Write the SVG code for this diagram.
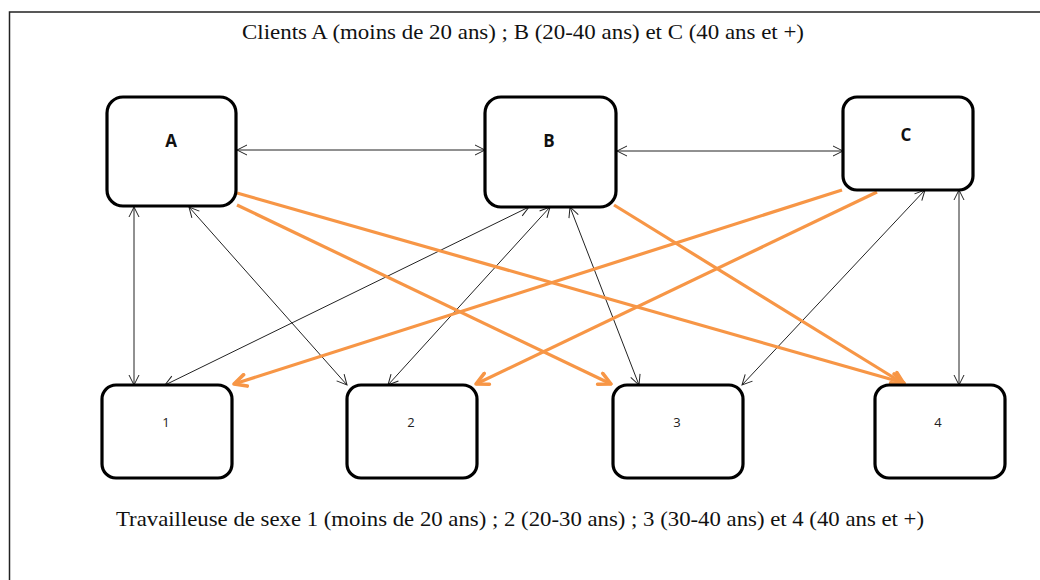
<svg xmlns="http://www.w3.org/2000/svg" width="1040" height="580" viewBox="0 0 1040 580">
  <style>
    .frame { fill: #ffffff; stroke: #222222; stroke-width: 1.5; }
    .box { fill: #ffffff; stroke: #000000; stroke-width: 3.2; }
    .caption { font-family: "Liberation Serif", serif; fill: #111111; }
    .big { font-family: "Open Sans", "Liberation Sans", sans-serif; font-size: 17px; font-weight: bold; fill: #111111; }
    .small { font-family: "Open Sans", "Liberation Sans", sans-serif; font-size: 13px; fill: #222222; }
    .thin { stroke: #222222; stroke-width: 1; fill: none; marker-start: url(#headB); marker-end: url(#headB); }
    .orange { stroke: #F79646; stroke-width: 3.2; fill: none; marker-end: url(#headO); }
  </style>
  <defs>
    <marker id="headB" viewBox="0 0 12 12" refX="11" refY="6" markerWidth="12" markerHeight="12" markerUnits="userSpaceOnUse" orient="auto-start-reverse">
      <path d="M1,1 L11,6 L1,11" fill="none" stroke="#222222" stroke-width="1"/>
    </marker>
    <marker id="headO" viewBox="0 0 16 16" refX="14" refY="8" markerWidth="16" markerHeight="16" markerUnits="userSpaceOnUse" orient="auto">
      <path d="M2,2 L14,8 L2,14" fill="none" stroke="#F79646" stroke-width="3.6" stroke-linejoin="round" stroke-linecap="round"/>
    </marker>
  </defs>

  <rect width="1040" height="580" fill="#ffffff"/>
  <rect class="frame" x="9.5" y="12" width="1040" height="580"/>

  <text class="caption" x="242" y="39" font-size="21" textLength="562" lengthAdjust="spacingAndGlyphs">Clients A (moins de 20 ans) ; B (20-40 ans) et C (40 ans et +)</text>
  <text class="caption" x="116" y="526" font-size="21" textLength="808" lengthAdjust="spacingAndGlyphs">Travailleuse de sexe 1 (moins de 20 ans) ; 2 (20-30 ans) ; 3 (30-40 ans) et 4 (40 ans et +)</text>

  <g id="connectors">
    <line class="thin" x1="237" y1="150" x2="485" y2="150"/>
    <line class="thin" x1="617" y1="151" x2="843" y2="151"/>
    <line class="thin" x1="134" y1="207" x2="134" y2="385"/>
    <line class="thin" x1="189" y1="207" x2="347" y2="385"/>
    <line class="thin" x1="529" y1="207" x2="165" y2="385"/>
    <line class="thin" x1="550" y1="207" x2="388" y2="385"/>
    <line class="thin" x1="570" y1="207" x2="639" y2="385"/>
    <line class="thin" x1="925" y1="190" x2="742" y2="385"/>
    <line class="thin" x1="959" y1="190" x2="959" y2="385"/>
    <line class="orange" x1="237" y1="193" x2="904" y2="383"/>
    <line class="orange" x1="237" y1="205" x2="611" y2="384"/>
    <line class="orange" x1="614" y1="205" x2="904" y2="384"/>
    <line class="orange" x1="842" y1="190" x2="234" y2="384"/>
    <line class="orange" x1="877" y1="192" x2="476" y2="384"/>
  </g>

  <g id="node-A">
    <rect class="box" x="107" y="97" width="129" height="109" rx="16"/>
    <text class="big" x="171" y="147" text-anchor="middle">A</text>
  </g>
  <g id="node-B">
    <rect class="box" x="485" y="97" width="131" height="110" rx="16"/>
    <text class="big" x="549" y="147" text-anchor="middle">B</text>
  </g>
  <g id="node-C">
    <rect class="box" x="843" y="97" width="130" height="93" rx="14"/>
    <text class="big" x="906" y="141" text-anchor="middle">C</text>
  </g>
  <g id="node-1">
    <rect class="box" x="102" y="385" width="130" height="93" rx="14"/>
    <text class="small" x="166" y="427" text-anchor="middle">1</text>
  </g>
  <g id="node-2">
    <rect class="box" x="347" y="385" width="130" height="93" rx="14"/>
    <text class="small" x="411" y="427" text-anchor="middle">2</text>
  </g>
  <g id="node-3">
    <rect class="box" x="613" y="385" width="130" height="93" rx="14"/>
    <text class="small" x="677" y="427" text-anchor="middle">3</text>
  </g>
  <g id="node-4">
    <rect class="box" x="875" y="385" width="130" height="93" rx="14"/>
    <text class="small" x="938" y="427" text-anchor="middle">4</text>
  </g>
</svg>
